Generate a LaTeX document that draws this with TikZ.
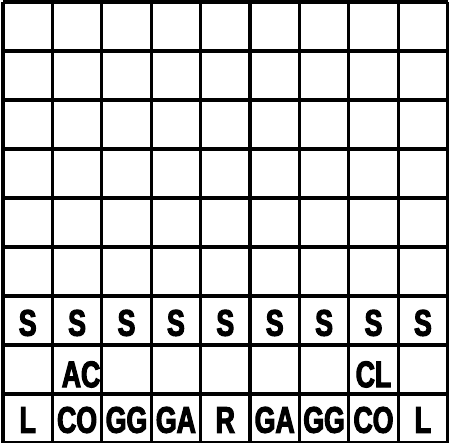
\documentclass[tikz,border=0pt]{standalone}
\usepackage{fontspec}
\setmainfont{Liberation Sans}[FakeStretch=0.72,FakeBold=3]
\begin{document}
\begin{tikzpicture}[x=49.4pt,y=-49pt,line width=3.3pt,
  every node/.style={font=\fontsize{37}{37}\bfseries\selectfont,inner sep=0pt}]
\useasboundingbox (-3pt,2pt) rectangle (449pt,-440pt);
% board
\foreach \i in {0,...,9} {
  \draw (\i,0) -- (\i,9);
  \draw (0,\i) -- (9,\i);
}
% row of S
\foreach \i in {1,...,9}
  \node (s\i) at (\i-0.5,6.55) {S};
\node (ac) at (1.58,7.6) {AC};
\node (cl) at (7.5,7.6) {CL};
% back row
\foreach \t [count=\i] in {L,CO,GG,GA,R,GA,GG,CO,L}
  \node (b\i) at (\i-0.5,8.53) {\t};
\end{tikzpicture}
\end{document}
